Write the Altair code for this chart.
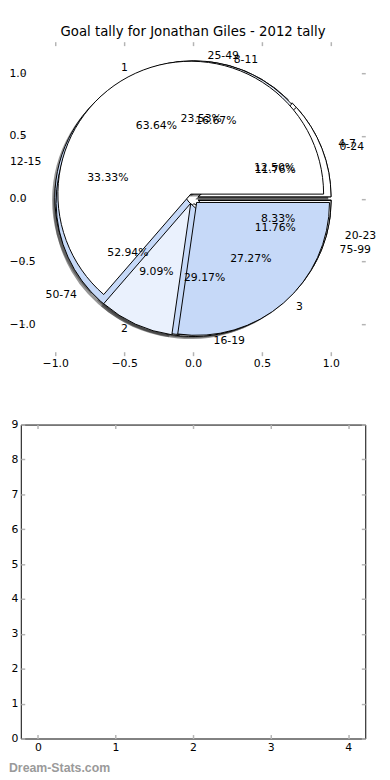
import math
import altair as alt
import pandas as pd

# ---------------- data ----------------
title_text = "Goal tally for Jonathan Giles - 2012 tally"

pie_a_labels = ["1", "2", "3"]
pie_a_counts = [7, 1, 3]

pie_b_labels = ["4-7", "8-11", "12-15", "16-19", "20-23"]
pie_b_counts = [3, 4, 8, 7, 2]

pie_c_labels = ["0-24", "25-49", "50-74", "75-99"]
pie_c_counts = [2, 4, 9, 2]

pie_ticks = [-1.0, -0.5, 0.0, 0.5, 1.0]
bottom_x_ticks = [0, 1, 2, 3, 4]
bottom_y_ticks = [0, 1, 2, 3, 4, 5, 6, 7, 8, 9]
watermark = "Dream-Stats.com"

# ---------------- style ----------------
palette = ["#ffffff", "#eaf1fd", "#c6d9f8"]
EXPLODE = 0.04
LABEL_DIST = 1.1
PCT_DIST = 0.6
SHADOW = 0.02
R_PX = 135
FONT = "DejaVu Sans"
TICK_COLOR = "#b4b4b4"

rows = []
for pie, labels, counts in [("B", pie_b_labels, pie_b_counts),
                            ("C", pie_c_labels, pie_c_counts),
                            ("A", pie_a_labels, pie_a_counts)]:
    total = float(sum(counts))
    acc = 0.0
    for i, (lab, c) in enumerate(zip(labels, counts)):
        frac = c / total
        a1 = 360.0 * acc
        a2 = 360.0 * (acc + frac)
        acc += frac
        mid = math.radians((a1 + a2) / 2.0)
        cx = EXPLODE * math.cos(mid)
        cy = EXPLODE * math.sin(mid)
        lx = cx + LABEL_DIST * math.cos(mid)
        rows.append(dict(
            pie=pie, label=lab, pct=f"{100 * frac:.2f}%", ci=i % 3,
            cx=cx, cy=cy, sx=cx - SHADOW, sy=cy - SHADOW,
            lx=lx, ly=cy + LABEL_DIST * math.sin(mid),
            side="left" if lx > 0 else "right",
            px=cx + PCT_DIST * math.cos(mid), py=cy + PCT_DIST * math.sin(mid),
            t1=math.radians(450.0 - a2), t2=math.radians(450.0 - a1),
        ))
df = pd.DataFrame(rows)

xs = alt.Scale(domain=[-1.25, 1.25], nice=False, zero=False)
ys = alt.Scale(domain=[-1.25, 1.25], nice=False, zero=False)


def axis(orient, values, labels, fmt, pad=3, align=None):
    kw = dict(orient=orient, values=values, labels=labels, domain=False, grid=False,
              ticks=True, tickSize=4, tickColor=TICK_COLOR, tickWidth=1.5, offset=-4,
              labelPadding=pad, labelFontSize=11, labelFont=FONT, labelColor="black",
              labelFlush=False, labelOverlap=False, title=None, format=fmt)
    if align:
        kw["labelAlign"] = align
    return alt.Axis(**kw)


theta = alt.Theta("t1:Q", scale=None)
theta2 = alt.Theta2("t2:Q")
color = alt.Color("ci:N", scale=alt.Scale(domain=[0, 1, 2], range=palette), legend=None)

shadow = alt.Chart(df).mark_arc(radius=R_PX, color="#303030", opacity=0.5).encode(
    x=alt.X("sx:Q", scale=xs, axis=axis("bottom", pie_ticks, True, ".1f", pad=2)),
    y=alt.Y("sy:Q", scale=ys, axis=axis("left", pie_ticks, True, ".1f", pad=12, align="left")),
    theta=theta, theta2=theta2,
)


def wedges(p):
    return alt.Chart(df).transform_filter(alt.datum.pie == p).mark_arc(
        radius=R_PX, stroke="black", strokeWidth=1
    ).encode(
        x=alt.X("cx:Q", scale=xs, axis=None),
        y=alt.Y("cy:Q", scale=ys, axis=None),
        theta=theta, theta2=theta2, color=color,
    )


def labels_layer(side):
    return alt.Chart(df).transform_filter(alt.datum.side == side).mark_text(
        align=side, baseline="middle", fontSize=11, font=FONT, color="black"
    ).encode(
        x=alt.X("lx:Q", scale=xs, axis=None),
        y=alt.Y("ly:Q", scale=ys, axis=None),
        text="label:N",
    )


pct_layer = alt.Chart(df).mark_text(
    align="center", baseline="middle", fontSize=11, font=FONT, color="black"
).encode(
    x=alt.X("px:Q", scale=xs, axis=axis("top", pie_ticks, False, ".1f")),
    y=alt.Y("py:Q", scale=ys, axis=axis("right", pie_ticks, False, ".1f")),
    text="pct:N",
)

top = alt.layer(
    shadow, wedges("B"), wedges("C"), wedges("A"),
    labels_layer("left"), labels_layer("right"), pct_layer,
).resolve_axis(x="independent", y="independent").properties(
    width=350, height=319,
    title=alt.TitleParams(title_text, fontSize=13.5, font=FONT, fontWeight="normal",
                          anchor="middle", frame="group", offset=3, color="black"),
    view=alt.ViewBackground(stroke="transparent"),
)

# ---------------- bottom (empty) panel ----------------
bdf = pd.DataFrame({"x": bottom_x_ticks, "y": bottom_y_ticks[:len(bottom_x_ticks)]})
bxs = alt.Scale(domain=[-0.22, 4.22], nice=False, zero=False)
bys = alt.Scale(domain=[0, 9], nice=False, zero=False)

b1 = alt.Chart(bdf).mark_point(opacity=0).encode(
    x=alt.X("x:Q", scale=bxs, axis=axis("bottom", bottom_x_ticks, True, "d", pad=3)),
    y=alt.Y("y:Q", scale=bys, axis=axis("left", bottom_y_ticks, True, "d", pad=3)),
)
b2 = alt.Chart(bdf).mark_point(opacity=0).encode(
    x=alt.X("x:Q", scale=bxs, axis=axis("top", bottom_x_ticks, False, "d")),
    y=alt.Y("y:Q", scale=bys, axis=axis("right", bottom_y_ticks, False, "d")),
)
wm = alt.Chart(pd.DataFrame({"t": [watermark]})).mark_text(
    align="left", baseline="middle", fontSize=12.5, font="Liberation Sans",
    fontWeight="bold", color="#9a9a9a"
).encode(x=alt.value(-12), y=alt.value(349), text="t:N")

bottom = alt.layer(b1, b2, wm).resolve_axis(x="independent", y="independent").properties(
    width=350, height=319,
    view=alt.ViewBackground(stroke="black", strokeWidth=1),
)

chart = alt.vconcat(top, bottom, spacing=49).properties(
    padding={"left": 0, "top": 10, "right": 5, "bottom": 5}
).configure(font=FONT).configure_view(stroke="black")

chart.save("out.html", embed_options={"renderer": "svg", "actions": False})
